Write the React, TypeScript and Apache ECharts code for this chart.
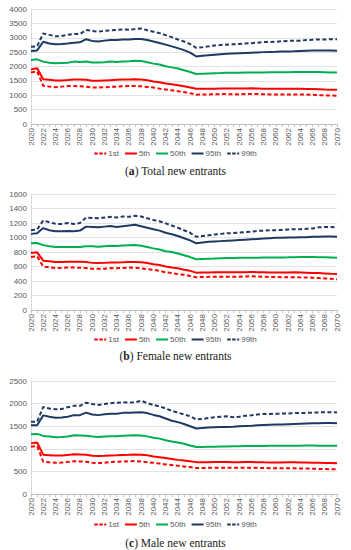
import React, { useEffect, useRef } from "react";
import * as echarts from "echarts";

const years: string[] = [];
for (let y = 2020; y <= 2070; y++) years.push(String(y));

const seriesNames = ["1st", "5th", "50th", "95th", "99th"];

// (a) Total new entrants
const totalP1 = [1790, 1830, 1330, 1300, 1280, 1300, 1320, 1320, 1310, 1300, 1270, 1270, 1275, 1290, 1300, 1310, 1320, 1320, 1310, 1290, 1270, 1230, 1200, 1170, 1140, 1110, 1070, 1020, 1025, 1030, 1035, 1040, 1040, 1035, 1030, 1040, 1045, 1040, 1035, 1030, 1030, 1030, 1030, 1025, 1030, 1025, 1015, 1005, 995, 990, 985];
const totalP5 = [1900, 1940, 1560, 1540, 1515, 1515, 1530, 1550, 1550, 1540, 1505, 1505, 1515, 1525, 1535, 1545, 1550, 1555, 1545, 1520, 1480, 1450, 1410, 1380, 1350, 1310, 1270, 1225, 1225, 1230, 1230, 1235, 1235, 1235, 1235, 1235, 1240, 1235, 1230, 1225, 1225, 1225, 1225, 1230, 1225, 1220, 1215, 1210, 1200, 1195, 1190];
const totalP50 = [2230, 2250, 2170, 2130, 2110, 2120, 2130, 2170, 2160, 2170, 2140, 2140, 2150, 2170, 2160, 2170, 2180, 2200, 2190, 2150, 2100, 2070, 2010, 1970, 1930, 1870, 1810, 1740, 1750, 1760, 1765, 1770, 1780, 1780, 1785, 1790, 1790, 1795, 1795, 1800, 1800, 1800, 1800, 1805, 1805, 1810, 1810, 1805, 1800, 1795, 1790];
const totalP95 = [2540, 2560, 2860, 2800, 2770, 2780, 2800, 2830, 2840, 2950, 2890, 2870, 2900, 2920, 2920, 2940, 2940, 2960, 2960, 2920, 2870, 2820, 2760, 2700, 2640, 2570, 2480, 2350, 2370, 2390, 2410, 2430, 2440, 2450, 2460, 2470, 2480, 2490, 2500, 2505, 2510, 2520, 2525, 2530, 2540, 2550, 2555, 2560, 2560, 2555, 2550];
const totalP99 = [2690, 2700, 3150, 3100, 3050, 3060, 3100, 3130, 3130, 3270, 3240, 3210, 3240, 3260, 3270, 3290, 3280, 3300, 3320, 3260, 3210, 3160, 3090, 3020, 2940, 2870, 2780, 2650, 2670, 2700, 2730, 2750, 2760, 2770, 2780, 2800, 2810, 2830, 2850, 2850, 2860, 2880, 2890, 2900, 2900, 2920, 2930, 2940, 2940, 2950, 2950];

// (b) Female new entrants
const femaleP1 = [730, 740, 600, 590, 580, 582, 585, 585, 582, 578, 570, 568, 570, 578, 575, 580, 585, 582, 575, 565, 555, 540, 520, 510, 495, 485, 470, 452, 455, 457, 460, 460, 460, 458, 458, 462, 465, 462, 458, 455, 455, 452, 452, 452, 450, 450, 445, 440, 435, 430, 425];
const femaleP5 = [785, 795, 680, 672, 662, 662, 665, 665, 665, 662, 650, 648, 650, 655, 655, 658, 662, 662, 658, 648, 630, 620, 600, 585, 575, 555, 540, 515, 517, 518, 520, 520, 520, 520, 522, 522, 524, 522, 520, 518, 518, 518, 518, 520, 518, 515, 512, 510, 505, 500, 498];
const femaleP50 = [920, 925, 895, 880, 870, 868, 868, 868, 870, 878, 878, 872, 880, 885, 882, 888, 892, 895, 885, 870, 850, 835, 810, 800, 780, 755, 730, 700, 705, 708, 710, 713, 716, 718, 720, 720, 722, 722, 724, 725, 725, 725, 726, 728, 730, 730, 730, 728, 727, 725, 722];
const femaleP95 = [1050, 1060, 1130, 1100, 1085, 1085, 1090, 1085, 1095, 1150, 1145, 1140, 1150, 1160, 1145, 1155, 1165, 1175, 1155, 1135, 1115, 1095, 1065, 1045, 1020, 990, 960, 920, 930, 940, 945, 950, 955, 960, 965, 970, 975, 980, 985, 990, 995, 995, 1000, 1000, 1005, 1005, 1010, 1010, 1015, 1015, 1010];
const femaleP99 = [1100, 1110, 1235, 1210, 1190, 1185, 1200, 1185, 1200, 1275, 1270, 1265, 1275, 1285, 1275, 1290, 1285, 1300, 1290, 1265, 1240, 1225, 1195, 1165, 1135, 1100, 1065, 1010, 1020, 1030, 1040, 1050, 1060, 1060, 1070, 1075, 1080, 1090, 1095, 1100, 1100, 1105, 1110, 1115, 1115, 1120, 1125, 1140, 1145, 1145, 1140];

// (c) Male new entrants
const maleP1 = [1045, 1060, 715, 700, 690, 695, 710, 725, 720, 715, 690, 685, 690, 710, 712, 718, 725, 728, 720, 705, 690, 675, 655, 640, 625, 610, 595, 575, 575, 578, 580, 580, 580, 578, 578, 580, 582, 578, 575, 572, 570, 570, 568, 568, 565, 562, 558, 555, 552, 548, 545];
const maleP5 = [1120, 1140, 870, 860, 850, 850, 865, 880, 875, 870, 845, 840, 845, 852, 855, 862, 868, 875, 870, 855, 830, 815, 795, 775, 755, 740, 725, 705, 705, 705, 706, 706, 706, 705, 705, 706, 706, 704, 700, 698, 697, 698, 700, 700, 698, 695, 692, 690, 688, 684, 680];
const maleP50 = [1320, 1330, 1285, 1270, 1255, 1260, 1270, 1300, 1295, 1290, 1270, 1260, 1270, 1280, 1280, 1290, 1295, 1300, 1295, 1275, 1245, 1225, 1190, 1160, 1140, 1110, 1075, 1040, 1042, 1045, 1048, 1050, 1052, 1055, 1058, 1060, 1060, 1062, 1062, 1065, 1065, 1067, 1068, 1070, 1070, 1072, 1072, 1070, 1068, 1067, 1065];
const maleP95 = [1520, 1520, 1740, 1710, 1685, 1695, 1710, 1745, 1745, 1800, 1760, 1745, 1765, 1775, 1775, 1795, 1800, 1805, 1810, 1790, 1750, 1720, 1670, 1620, 1590, 1550, 1500, 1450, 1460, 1470, 1475, 1480, 1485, 1490, 1500, 1505, 1510, 1520, 1525, 1530, 1535, 1540, 1545, 1550, 1555, 1560, 1565, 1565, 1570, 1570, 1565];
const maleP99 = [1600, 1600, 1925, 1890, 1875, 1880, 1920, 1950, 1950, 2020, 1990, 1970, 1990, 2010, 2020, 2030, 2020, 2030, 2065, 2010, 1970, 1940, 1890, 1840, 1800, 1760, 1720, 1650, 1660, 1680, 1700, 1710, 1720, 1700, 1710, 1730, 1740, 1760, 1770, 1770, 1775, 1780, 1780, 1790, 1790, 1795, 1800, 1805, 1810, 1810, 1805];

const captionLetters = ["a", "b", "c"];
const captionTexts = ["Total new entrants", "Female new entrants", "Male new entrants"];
const yMax = [4000, 1600, 2500];
const yStep = [500, 200, 500];

const panels = [
  [totalP1, totalP5, totalP50, totalP95, totalP99],
  [femaleP1, femaleP5, femaleP50, femaleP95, femaleP99],
  [maleP1, maleP5, maleP50, maleP95, maleP99],
];

const colors = ["#ff0000", "#ff0000", "#00b050", "#1f3864", "#1f3864"];
const dashed = [true, false, false, false, true];

const SOLID_ICON = "path://M0,0H12V2H0Z";
const DASH_ICON = "path://M0,0H3.5V2H0Z M5,0H8.5V2H5Z M10,0H12V2H10Z";

const gridTops = [9, 194, 381];
const gridHeights = [115, 116, 113];
const legendTops = [149, 335, 520];
const captionTops = [164, 349, 536];

export default function App() {
  const ref = useRef<HTMLDivElement>(null);
  useEffect(() => {
    if (!ref.current) return;
    const chart = echarts.init(ref.current, null, { renderer: "svg" });
    const font = "Liberation Sans";
    const option: any = {
      animation: false,
      backgroundColor: "#ffffff",
      grid: gridTops.map((t, i) => ({
        left: 31,
        right: 14,
        top: t,
        height: gridHeights[i],
        containLabel: false,
      })),
      xAxis: gridTops.map((_, i) => ({
        type: "category",
        gridIndex: i,
        data: years,
        boundaryGap: false,
        axisLine: { show: true, lineStyle: { color: "#bfbfbf", width: 1 } },
        axisTick: { show: true, interval: 0, length: 3, lineStyle: { color: "#bfbfbf" } },
        axisLabel: {
          rotate: 90,
          interval: 1,
          fontSize: 8,
          margin: 4,
          color: "#595959",
          fontFamily: font,
        },
        splitLine: { show: false },
      })),
      yAxis: gridTops.map((_, i) => ({
        type: "value",
        gridIndex: i,
        min: 0,
        max: yMax[i],
        interval: yStep[i],
        axisLine: { show: true, lineStyle: { color: "#d9d9d9" } },
        axisTick: { show: false },
        axisLabel: {
          fontSize: 8,
          margin: 4,
          color: "#595959",
          fontFamily: font,
          formatter: (v: number) => String(v),
        },
        splitLine: { show: true, lineStyle: { color: "#e3e3e3", width: 1 } },
      })),
      legend: legendTops.map((t) => ({
        top: t,
        left: "center",
        padding: 0,
        itemWidth: 12,
        itemHeight: 2,
        itemGap: 6,
        data: seriesNames.map((n, si) => ({
          name: n,
          icon: dashed[si] ? DASH_ICON : SOLID_ICON,
        })),
        textStyle: { fontSize: 8, lineHeight: 9, color: "#595959", fontFamily: font, padding: [0, 0, 0, -3] },
      })),
      title: captionTops.map((t, i) => ({
        text: "({b|" + captionLetters[i] + "}) " + captionTexts[i],
        left: "center",
        top: t,
        padding: 0,
        textStyle: {
          fontSize: 11.5,
          lineHeight: 13,
          fontWeight: "normal",
          color: "#222222",
          fontFamily: "Liberation Serif",
          rich: {
            b: { fontSize: 11.5, lineHeight: 13, fontWeight: "bold", color: "#222222", fontFamily: "Liberation Serif" },
          },
        },
      })),
      series: [] as any[],
    };
    panels.forEach((panel, pi) => {
      panel.forEach((vals, si) => {
        option.series.push({
          type: "line",
          name: seriesNames[si],
          xAxisIndex: pi,
          yAxisIndex: pi,
          data: vals,
          symbol: "none",
          color: colors[si],
          lineStyle: {
            color: colors[si],
            width: 2,
            type: dashed[si] ? [4, 2.5] : "solid",
          },
        });
      });
    });
    chart.setOption(option);
    return () => chart.dispose();
  }, []);
  return (
    <div
      ref={ref}
      style={{ position: "absolute", left: 0, top: 0, width: 351, height: 550 }}
    />
  );
}
